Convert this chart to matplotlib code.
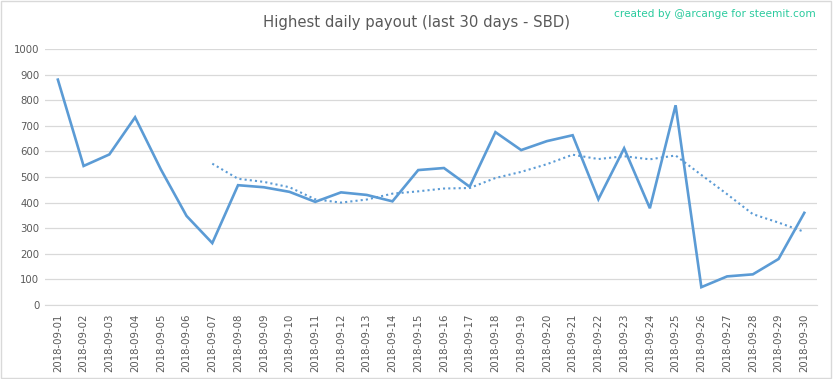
import numpy as np
import matplotlib.pyplot as plt

# daily values
dates = ["2018-09-%02d" % d for d in range(1, 31)]
payout = [880, 543, 588, 733, 530, 348, 242, 468, 460, 442,
          403, 440, 430, 405, 527, 535, 462, 675, 605, 640,
          663, 413, 612, 378, 780, 70, 112, 120, 180, 360]
# dotted trend line (7 day moving average)
trend = [np.nan] * 6 + [552, 493, 481, 460, 413, 400, 412, 435, 444, 455,
                        457, 496, 520, 550, 587, 570, 581, 569, 584, 508,
                        433, 355, 322, 286]
yticks = list(range(0, 1001, 100))

blue = "#5B9BD5"
grey = "#595959"

fig = plt.figure(figsize=(8.33, 3.79), dpi=100)
ax = fig.add_axes([0.054, 0.195, 0.927, 0.676])

x = np.arange(len(dates))
ax.plot(x, payout, color=blue, lw=1.9, solid_joinstyle="miter")
ax.plot(x, trend, color=blue, lw=1.5, ls=(0, (1, 1.5)))

ax.set_xlim(-0.5, len(dates) - 0.5)
ax.set_ylim(0, 1000)
ax.set_yticks(yticks)
ax.set_xticks(x)
ax.set_xticklabels(dates, rotation=90)
ax.grid(axis="y", color="#D9D9D9", lw=0.9)
ax.set_axisbelow(True)
for s in ["top", "right", "left"]:
    ax.spines[s].set_visible(False)
ax.spines["bottom"].set_color("#D9D9D9")
ax.tick_params(length=0, labelsize=7.3, colors=grey, pad=4)
ax.tick_params(axis="x", pad=6)

fig.text(0.5, 0.94, "Highest daily payout (last 30 days - SBD)", ha="center",
         va="center", fontsize=10.7, color=grey)
fig.text(0.979, 0.963, "created by @arcange for steemit.com", ha="right",
         va="center", fontsize=7.6, color="#2BCB9E")

# thin border around the whole picture
fig.patches.append(plt.Rectangle((0.001, 0.002), 0.997, 0.995, transform=fig.transFigure,
                                 fill=False, ec="#D9D9D9", lw=1))

fig.savefig("out.png", dpi=100)
